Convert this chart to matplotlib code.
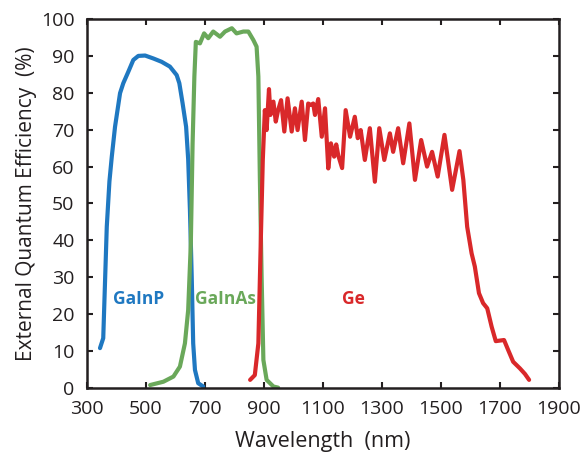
"""External quantum efficiency of a GaInP/GaInAs/Ge triple-junction cell."""
import matplotlib
matplotlib.use('Agg')
import matplotlib.pyplot as plt

# GaInP top cell
gainp_nm = [344, 355, 367, 376, 384, 395, 412, 423, 440, 457, 474, 497, 525,
            553, 581, 604, 613, 624, 636, 643, 649, 655, 660, 666, 677, 694]
gainp_eqe = [10.8, 13.5, 43.7, 56.0, 62.7, 70.8, 79.9, 82.6, 85.7, 88.9, 90.0,
             90.1, 89.3, 88.4, 87.1, 84.8, 82.6, 77.2, 70.8, 62.0, 48.2, 30.2,
             12.1, 4.9, 1.3, 0.4]

# GaInAs middle cell
gainas_nm = [514, 559, 593, 615, 632, 643, 652, 658, 664, 669, 683, 697, 711,
             728, 751, 768, 791, 807, 830, 847, 864, 875, 881, 886, 892, 898,
             909, 932, 948]
gainas_eqe = [0.8, 1.7, 3.1, 5.8, 12.1, 21.1, 39.2, 66.3, 84.4, 93.8, 93.4,
              96.1, 94.8, 96.6, 95.2, 96.6, 97.5, 96.1, 96.6, 96.6, 94.3, 92.5,
              84.4, 57.3, 30.2, 7.6, 2.2, 0.4, 0.1]

# Ge bottom cell
ge_nm = [853, 869, 881, 889, 896, 903, 909, 917, 922, 932, 940, 948, 958, 969,
         980, 994, 1005, 1014, 1028, 1039, 1050, 1059, 1067, 1073, 1084, 1096,
         1107, 1118, 1127, 1138, 1145, 1152, 1165, 1177, 1192, 1208, 1218,
         1228, 1242, 1259, 1276, 1291, 1308, 1327, 1338, 1355, 1372, 1393,
         1412, 1433, 1453, 1470, 1489, 1512, 1538, 1563, 1576, 1589, 1604,
         1615, 1629, 1643, 1657, 1672, 1686, 1714, 1728, 1745, 1768, 1785,
         1799]
ge_eqe = [2.2, 3.5, 12.1, 39.2, 61.8, 75.3, 69.9, 81.0, 74.0, 77.6, 72.2, 75.3,
          78.0, 69.5, 78.5, 69.5, 75.8, 69.9, 77.6, 67.2, 77.1, 76.7, 77.1,
          74.0, 78.3, 68.1, 75.8, 59.5, 66.3, 62.7, 66.0, 63.0, 59.6, 75.3,
          68.1, 73.5, 67.7, 69.9, 61.8, 70.4, 55.9, 70.4, 61.8, 69.0, 64.0,
          70.4, 60.9, 71.7, 56.4, 67.2, 60.0, 64.0, 57.3, 68.6, 53.7, 64.2,
          56.4, 43.7, 36.5, 32.9, 25.7, 23.0, 21.6, 16.6, 12.7, 13.0, 10.3,
          7.1, 5.3, 3.8, 2.2]

x_ticks = [300, 500, 700, 900, 1100, 1300, 1500, 1700, 1900]
y_ticks = list(range(0, 101, 10))

BLUE = '#1f78c1'
GREEN = '#6aa85a'
RED = '#d9282a'
INK = '#231f20'

plt.rcParams['font.family'] = ['Open Sans', 'DejaVu Sans']

fig = plt.figure(figsize=(5.84, 4.59), dpi=100)
ax = fig.add_axes([0.149, 0.1547, 0.808, 0.8039])

lw = 3.0
for xs, ys, c in [(gainp_nm, gainp_eqe, BLUE),
                  (gainas_nm, gainas_eqe, GREEN),
                  (ge_nm, ge_eqe, RED)]:
    ax.plot(xs, ys, color=c, linewidth=lw, solid_capstyle='round',
            solid_joinstyle='round')

ax.text(476, 24, 'GaInP', color=BLUE, fontsize=12.5, fontweight='bold',
        ha='center', va='center')
ax.text(771, 24, 'GaInAs', color=GREEN, fontsize=12.5, fontweight='bold',
        ha='center', va='center')
ax.text(1205, 24, 'Ge', color=RED, fontsize=12.5, fontweight='bold',
        ha='center', va='center')

ax.set_xlim(300, 1900)
ax.set_ylim(0, 100)
ax.set_xticks(x_ticks)
ax.set_yticks(y_ticks)
ax.tick_params(direction='in', length=4, width=1.5, top=True, right=True,
               labelsize=14, colors=INK)
ax.tick_params(axis='x', pad=9)
ax.tick_params(axis='y', pad=9)
for s in ax.spines.values():
    s.set_linewidth(1.8)
    s.set_color(INK)

ax.set_xlabel('Wavelength  (nm)', fontsize=15.5, labelpad=9, color=INK)
ax.set_ylabel('External Quantum Efficiency  (%)', fontsize=15, labelpad=2.5,
              color=INK)

fig.savefig('out.png', dpi=100)
